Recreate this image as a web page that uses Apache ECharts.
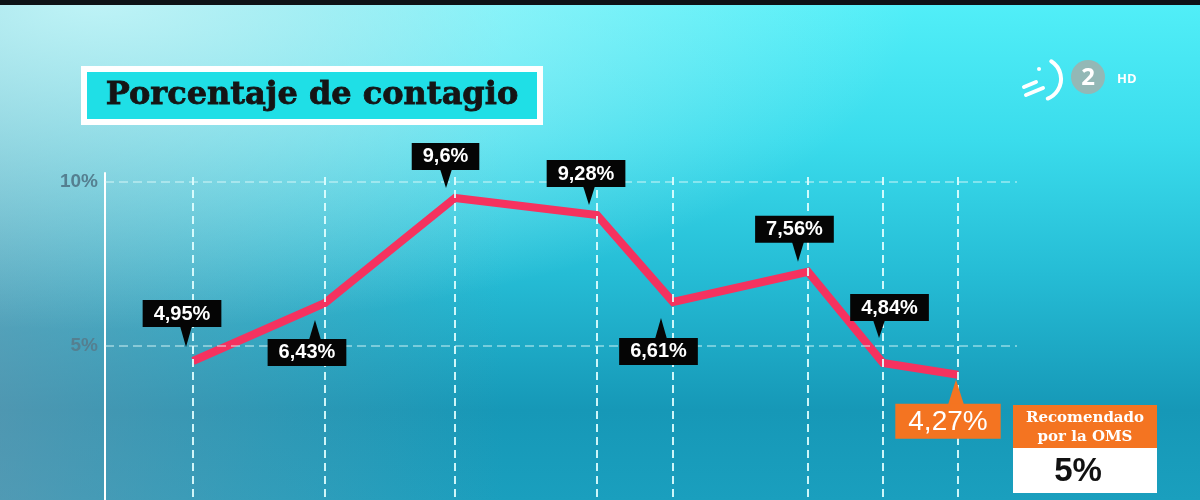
<!DOCTYPE html>
<html>
<head>
<meta charset="utf-8">
<script src="https://cdn.jsdelivr.net/npm/echarts@6/dist/echarts.min.js"></script>
<style>
  html, body { margin: 0; padding: 0; }
  #main {
    width: 1200px; height: 500px;
    background:
      linear-gradient(to bottom, #0d1216 0px, #0d1216 5px, rgba(0,0,0,0) 5px),
      radial-gradient(ellipse 820px 330px at 8% 0%, rgba(200,248,250,0.9) 0%, rgba(200,248,250,0.45) 50%, rgba(200,248,250,0) 100%),
      linear-gradient(to right, rgba(125,150,172,0.55) 0%, rgba(125,150,172,0.25) 22%, rgba(125,150,172,0) 42%),
      linear-gradient(to bottom, #52eff8 0%, #3adcec 28%, #25bcd5 55%, #1698b7 82%, #1a9fbe 100%);
  }
</style>
</head>
<body>
<div id="main"></div>
<script>
// ---- data ----
const xPos = [9.65, 24.12, 38.38, 53.95, 62.28, 77.08, 85.31, 93.53];
const values = [4.54, 6.31, 9.51, 8.99, 6.34, 7.26, 4.48, 4.12];
const labelTexts = ['4,95%', '6,43%', '9,6%', '9,28%', '6,61%', '7,56%', '4,84%', '4,27%'];
const yTickValues = [5, 10];
const yTickLabels = ['5%', '10%'];
const titleText = 'Porcentaje de contagio';
const omsLines = ['Recomendado', 'por la OMS'];
const omsValue = '5%';

// ---- label placement (layout only) ----
const labelLayout = [
  { side: 'up',   dx: -11,   dy: -34, tdx: -7,  tdy: -14 },
  { side: 'down', dx: -18,   dy: 36,  tdx: -10, tdy: 17 },
  { side: 'up',   dx: -9.5,  dy: -28, tdx: -9,  tdy: -10 },
  { side: 'up',   dx: -11,   dy: -28, tdx: -8,  tdy: -10 },
  { side: 'down', dx: -14.5, dy: 36,  tdx: -12, tdy: 16 },
  { side: 'up',   dx: -13.5, dy: -29, tdx: -10, tdy: -10 },
  { side: 'up',   dx: 6.5,   dy: -42, tdx: -4,  tdy: -25 },
  { side: 'down', dx: -10,   dy: 29,  tdx: -2,  tdy: 5, highlight: true }
];

const chart = echarts.init(document.getElementById('main'), null, { renderer: 'canvas' });

const lineData = xPos.map((x, i) => [x, values[i]]);
const labelData = xPos.map((x, i) => [x, values[i], i]);

const vLines = xPos.map(x => ({
  xAxis: x,
  lineStyle: { color: 'rgba(225,255,255,0.9)', width: 2, type: [8, 5] }
}));
const hLines = yTickValues.map(v => ({
  yAxis: v,
  lineStyle: { color: 'rgba(225,250,252,0.6)', width: 1.5, type: [9, 5] }
}));

function renderLabel(params, api) {
  const idx = api.value(2);
  const L = labelLayout[idx];
  const p = api.coord([api.value(0), api.value(1)]);
  const hi = !!L.highlight;
  const bg = hi ? '#f47421' : '#050505';
  const boxEdge = p[1] + L.dy;
  const tipX = p[0] + L.tdx;
  const tipY = p[1] + L.tdy;
  const half = hi ? 8 : 6;
  const baseY = L.side === 'up' ? boxEdge - 1 : boxEdge + 1;
  return {
    type: 'group',
    children: [
      {
        type: 'polygon',
        shape: { points: [[tipX - half, baseY], [tipX + half, baseY], [tipX, tipY]] },
        style: { fill: bg }
      },
      {
        type: 'text',
        x: p[0] + L.dx,
        y: boxEdge,
        style: {
          text: labelTexts[idx],
          fill: '#ffffff',
          fontSize: hi ? 28 : 20,
          fontWeight: hi ? 'normal' : 'bold',
          fontFamily: '"Liberation Sans", Arial, sans-serif',
          lineHeight: hi ? 28 : 20,
          align: 'center',
          verticalAlign: L.side === 'up' ? 'bottom' : 'top',
          backgroundColor: bg,
          padding: hi ? [4, 13, 3, 13] : [4, 11, 3, 11]
        }
      }
    ]
  };
}

const option = {
  backgroundColor: 'transparent',
  animation: false,
  grid: { left: 105, top: 173, width: 912, height: 337, outerBoundsMode: 'none', containLabel: false },
  xAxis: {
    type: 'value', min: 0, max: 100,
    axisLine: { show: false }, axisTick: { show: false },
    axisLabel: { show: false }, splitLine: { show: false }
  },
  yAxis: {
    type: 'value', min: 0, max: 10.27, interval: 5,
    axisLine: { show: true, lineStyle: { color: '#ffffff', width: 2 } },
    axisTick: { show: false },
    splitLine: { show: false },
    axisLabel: {
      showMinLabel: false, showMaxLabel: false,
      margin: 7,
      color: '#557f90', fontSize: 19, fontWeight: 'bold',
      fontFamily: '"Liberation Sans", Arial, sans-serif',
      formatter: function (v) {
        const k = yTickValues.indexOf(v);
        return k >= 0 ? yTickLabels[k] : '';
      }
    }
  },
  series: [
    {
      type: 'line',
      name: 'grid',
      data: lineData,
      z: 1,
      silent: true,
      showSymbol: false,
      lineStyle: { width: 0, opacity: 0 },
      markLine: {
        silent: true,
        symbol: ['none', 'none'],
        label: { show: false },
        data: vLines.concat(hLines)
      }
    },
    {
      type: 'line',
      name: 'Porcentaje',
      data: lineData,
      z: 3,
      showSymbol: false,
      silent: true,
      lineStyle: { color: '#f5325f', width: 8, cap: 'butt', join: 'miter' }
    },
    {
      type: 'custom',
      name: 'labels',
      z: 5,
      silent: true,
      data: labelData,
      renderItem: renderLabel
    }
  ],
  graphic: [
    { type: 'rect', left: 81, top: 66, shape: { width: 462, height: 59 }, style: { fill: '#ffffff' } },
    { type: 'rect', left: 87, top: 72, shape: { width: 450, height: 47 }, style: { fill: '#1fdfe6' } },
    {
      type: 'text', x: 312, y: 96,
      style: {
        text: titleText, fill: '#151515',
        font: 'bold 32px "DejaVu Serif", serif',
        stroke: '#151515', lineWidth: 0.8,
        align: 'center', verticalAlign: 'middle'
      }
    },
    // OMS box
    { type: 'rect', left: 1013, top: 405, shape: { width: 144, height: 43 }, style: { fill: '#f47421' } },
    { type: 'rect', left: 1013, top: 448, shape: { width: 144, height: 45 }, style: { fill: '#ffffff' } },
    {
      type: 'text', x: 1085, y: 418,
      style: { text: omsLines[0], fill: '#ffffff', font: 'bold 15px "DejaVu Serif", serif', align: 'center', verticalAlign: 'middle' }
    },
    {
      type: 'text', x: 1085, y: 437,
      style: { text: omsLines[1], fill: '#ffffff', font: 'bold 15px "DejaVu Serif", serif', align: 'center', verticalAlign: 'middle' }
    },
    {
      type: 'text', x: 1078, y: 472,
      style: { text: omsValue, fill: '#111111', font: 'bold 33px "Liberation Sans", Arial, sans-serif', align: 'center', verticalAlign: 'middle' }
    },
    // channel logo
    {
      type: 'arc', shape: { cx: 1040, cy: 79, r: 21, startAngle: -Math.PI * 0.32, endAngle: Math.PI * 0.38 },
      style: { stroke: '#ffffff', lineWidth: 4, fill: null, lineCap: 'round' }
    },
    { type: 'line', shape: { x1: 1024, y1: 87, x2: 1036, y2: 82 }, style: { stroke: '#ffffff', lineWidth: 4, lineCap: 'round' } },
    { type: 'line', shape: { x1: 1026, y1: 95, x2: 1043, y2: 88 }, style: { stroke: '#ffffff', lineWidth: 4, lineCap: 'round' } },
    { type: 'circle', shape: { cx: 1039, cy: 69, r: 2 }, style: { fill: '#ffffff' } },
    { type: 'circle', shape: { cx: 1088, cy: 77, r: 17 }, style: { fill: '#93b8b6' } },
    {
      type: 'text', x: 1088, y: 78,
      style: { text: '2', fill: '#ffffff', font: 'bold 24px "Open Sans", sans-serif', align: 'center', verticalAlign: 'middle' }
    },
    {
      type: 'text', x: 1117, y: 79,
      style: { text: 'HD', fill: '#ffffff', font: 'bold 13px "Open Sans", sans-serif', align: 'left', verticalAlign: 'middle' }
    }
  ]
};

chart.setOption(option);
</script>
</body>
</html>
